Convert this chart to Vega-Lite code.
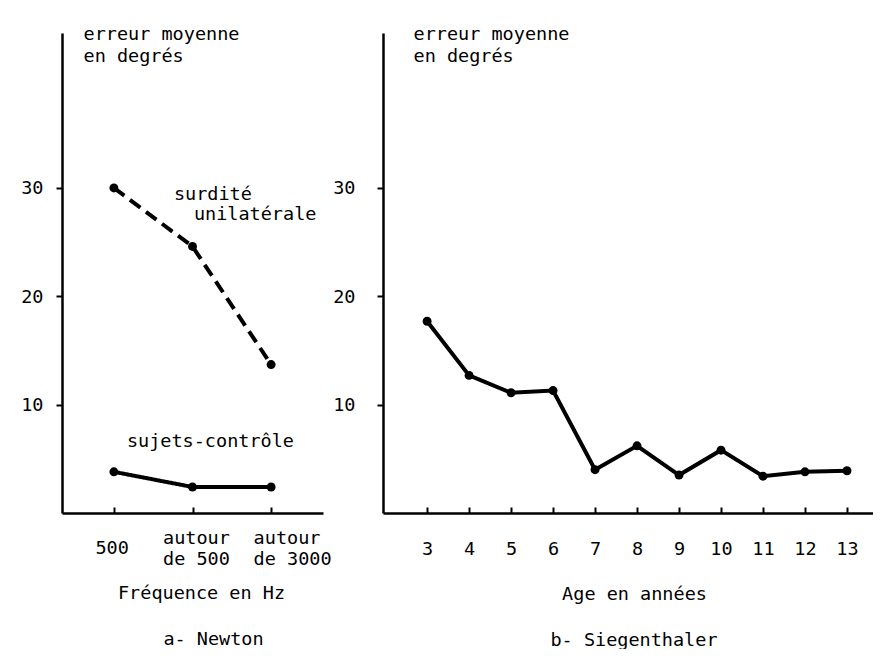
{
  "$schema": "https://vega.github.io/schema/vega-lite/v6.json",
  "background": "white",
  "padding": {"left": 20, "top": 24, "right": 0, "bottom": 0},
  "config": {
    "font": "DejaVu Sans Mono",
    "view": {"stroke": null},
    "axis": {
      "domainColor": "black", "domainWidth": 2.5, "tickColor": "black", "tickWidth": 2,
      "labelColor": "black", "titleColor": "black", "labelFont": "DejaVu Sans Mono", "titleFont": "DejaVu Sans Mono",
      "labelFontSize": 18.5, "titleFontSize": 18.5, "titleFontWeight": "normal", "grid": false
    },
    "title": {"font": "DejaVu Sans Mono", "fontSize": 18.5, "fontWeight": "normal", "color": "black"}
  },
  "datasets": {
    "newton": [
      {"freq": "500", "err": 30.0, "group": "surdité unilatérale"},
      {"freq": "autour de 500", "err": 24.6, "group": "surdité unilatérale"},
      {"freq": "autour de 3000", "err": 13.7, "group": "surdité unilatérale"},
      {"freq": "500", "err": 3.8, "group": "sujets-contrôle"},
      {"freq": "autour de 500", "err": 2.4, "group": "sujets-contrôle"},
      {"freq": "autour de 3000", "err": 2.4, "group": "sujets-contrôle"}
    ],
    "siegenthaler": [
      {"age": 3, "err": 17.7}, {"age": 4, "err": 12.7}, {"age": 5, "err": 11.1},
      {"age": 6, "err": 11.3}, {"age": 7, "err": 4.0}, {"age": 8, "err": 6.2},
      {"age": 9, "err": 3.5}, {"age": 10, "err": 5.8}, {"age": 11, "err": 3.4},
      {"age": 12, "err": 3.8}, {"age": 13, "err": 3.9}
    ],
    "notes": [
      {"freq": "500", "err": 28.9, "label": "surdité"},
      {"freq": "500", "err": 27.0, "label": "unilatérale"},
      {"freq": "500", "err": 6.1, "label": "sujets-contrôle"}
    ]
  },
  "spacing": 60,
  "bounds": "flush",
  "hconcat": [
    {
      "width": 261,
      "height": 480,
      "title": {"text": "a- Newton", "orient": "bottom", "anchor": "middle", "dx": 21, "offset": 28},
      "layer": [
        {
          "data": {"name": "newton"},
          "mark": {"type": "line", "color": "black", "strokeWidth": 4},
          "encoding": {
            "x": {
              "field": "freq", "type": "ordinal",
              "sort": ["500", "autour de 500", "autour de 3000"],
              "scale": {"type": "point", "padding": 0.66},
              "axis": {
                "title": "Fréquence en Hz", "titleX": 139, "titleY": 79, "titleBaseline": "middle", "titleAlign": "center", "titleAnchor": null,
                "labelAngle": 0,
                "labelExpr": "indexof(datum.label, ' de ') > 0 ? ['autour', 'de ' + substring(datum.label, 10)] : datum.label",
                "labelBaseline": "middle", "labelLineHeight": 21, "labelAlign": "left",
                "labelPadding": {"condition": {"test": "datum.value == '500'", "value": 40}, "value": 30},
                "labelOffset": {"condition": [{"test": "datum.value == '500'", "value": -19}, {"test": "datum.value == 'autour de 500'", "value": -30}], "value": -18},
                "tickSize": -6
              }
            },
            "y": {
              "field": "err", "type": "quantitative",
              "scale": {"domain": [0, 44.3], "nice": false, "zero": true},
              "axis": {
                "title": ["erreur moyenne", "en degrés"], "titleAngle": 0, "titleAlign": "left", "titleBaseline": "alphabetic",
                "titleX": 21, "titleY": 6.5, "titleLineHeight": 22,
                "values": [10, 20, 30], "tickSize": 6, "labelPadding": 13
              }
            },
            "detail": {"field": "group"},
            "strokeDash": {
              "field": "group", "type": "nominal",
              "scale": {"domain": ["surdité unilatérale", "sujets-contrôle"], "range": [[13, 7], [1, 0]]},
              "legend": null
            }
          }
        },
        {
          "data": {"name": "newton"},
          "mark": {"type": "circle", "color": "black", "size": 80, "opacity": 1},
          "encoding": {
            "x": {"field": "freq", "type": "ordinal", "sort": ["500", "autour de 500", "autour de 3000"]},
            "y": {"field": "err", "type": "quantitative"}
          }
        },
        {
          "data": {"name": "notes"},
          "transform": [{"filter": "datum.label == 'surdité'"}],
          "mark": {"type": "text", "align": "left", "baseline": "alphabetic", "dx": 60, "fontSize": 18.5, "color": "black"},
          "encoding": {
            "x": {"field": "freq", "type": "ordinal", "sort": ["500", "autour de 500", "autour de 3000"]},
            "y": {"field": "err", "type": "quantitative"},
            "text": {"field": "label"}
          }
        },
        {
          "data": {"name": "notes"},
          "transform": [{"filter": "datum.label == 'unilatérale'"}],
          "mark": {"type": "text", "align": "left", "baseline": "alphabetic", "dx": 80, "fontSize": 18.5, "color": "black"},
          "encoding": {
            "x": {"field": "freq", "type": "ordinal", "sort": ["500", "autour de 500", "autour de 3000"]},
            "y": {"field": "err", "type": "quantitative"},
            "text": {"field": "label"}
          }
        },
        {
          "data": {"name": "notes"},
          "transform": [{"filter": "datum.label == 'sujets-contrôle'"}],
          "mark": {"type": "text", "align": "left", "baseline": "alphabetic", "dx": 13, "fontSize": 18.5, "color": "black"},
          "encoding": {
            "x": {"field": "freq", "type": "ordinal", "sort": ["500", "autour de 500", "autour de 3000"]},
            "y": {"field": "err", "type": "quantitative"},
            "text": {"field": "label"}
          }
        }
      ]
    },
    {
      "width": 490,
      "height": 480,
      "title": {"text": "b- Siegenthaler", "orient": "bottom", "anchor": "middle", "dx": 6, "offset": 28},
      "data": {"name": "siegenthaler"},
      "encoding": {
        "x": {
          "field": "age", "type": "quantitative",
          "scale": {"domain": [1.95, 13.62], "nice": false, "zero": false},
          "axis": {
            "title": "Age en années", "titleX": 251, "titleY": 80, "titleBaseline": "middle", "titleAlign": "center", "titleAnchor": null,
            "values": [3, 4, 5, 6, 7, 8, 9, 10, 11, 12, 13], "format": "d",
            "labelBaseline": "middle", "labelPadding": 41, "tickSize": -6, "labelFlush": false, "labelOverlap": false
          }
        },
        "y": {
          "field": "err", "type": "quantitative",
          "scale": {"domain": [0, 44.3], "nice": false},
          "axis": {
            "title": ["erreur moyenne", "en degrés"], "titleAngle": 0, "titleAlign": "left", "titleBaseline": "alphabetic",
            "titleX": 30, "titleY": 6.5, "titleLineHeight": 22,
            "values": [10, 20, 30], "tickSize": 6, "labelPadding": 22
          }
        }
      },
      "layer": [
        {"mark": {"type": "line", "color": "black", "strokeWidth": 4}},
        {"mark": {"type": "circle", "color": "black", "size": 80, "opacity": 1}}
      ]
    }
  ]
}
